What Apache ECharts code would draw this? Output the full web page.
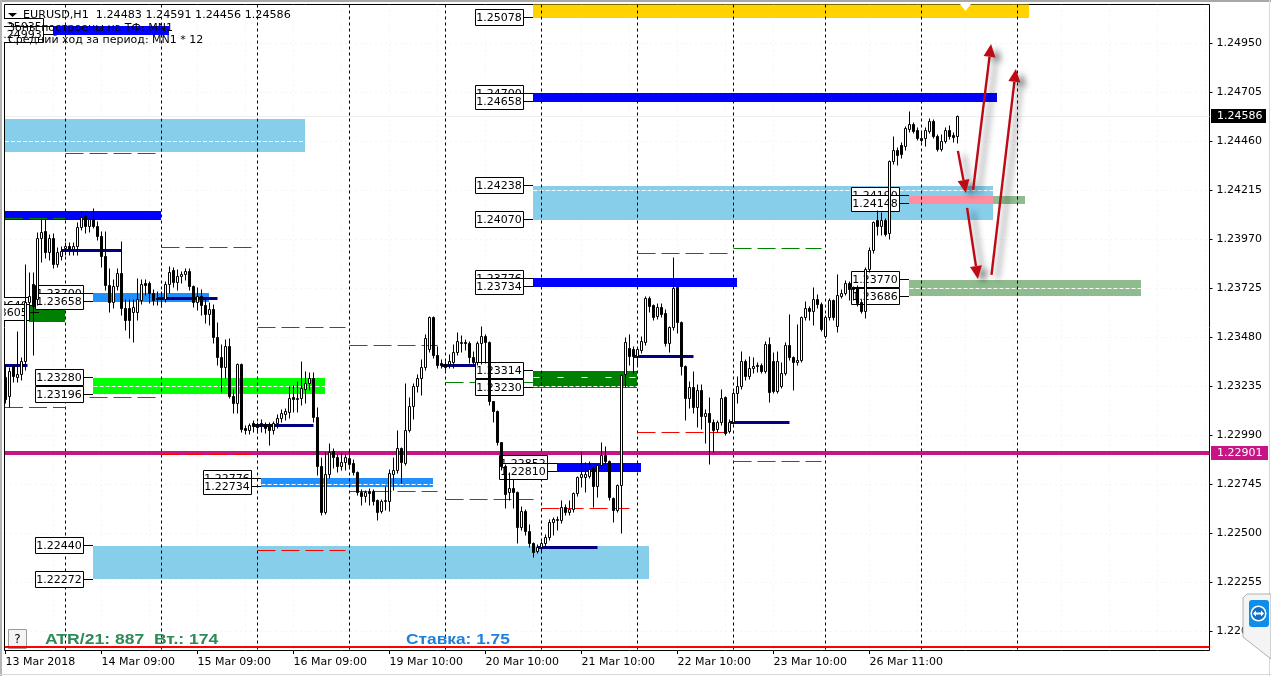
<!DOCTYPE html>
<html>
<head>
<meta charset="UTF-8" />
<title>EURUSD,H1</title>
<style>html,body{margin:0;padding:0;background:#fff}#A{width:1271px;height:676px}</style>
</head>
<body>
<div id="A"></div>
<script src="https://cdn.jsdelivr.net/npm/echarts@6/dist/echarts.min.js"></script>
<script>
// open, close, low, high of every H1 bar
var candles = [
[1.23278,1.23168,1.23153,1.23338],[1.23183,1.23308,1.23133,1.23328],[1.23333,1.23283,1.23258,1.23343],[1.23278,1.23293,1.23258,1.23508],
[1.23293,1.23358,1.23268,1.23378],[1.23358,1.23653,1.23318,1.23843],[1.23653,1.23683,1.23618,1.23803],[1.23743,1.23633,1.23393,1.23803],
[1.23668,1.23973,1.23643,1.24003],[1.23973,1.24003,1.23858,1.24068],[1.24008,1.23903,1.23878,1.24068],[1.23903,1.23973,1.23868,1.23993],
[1.23973,1.23843,1.23828,1.23998],[1.23843,1.23903,1.23833,1.23928],[1.23883,1.23908,1.23868,1.23933],[1.23923,1.23933,1.23893,1.23953],
[1.23933,1.23918,1.23893,1.23953],[1.23918,1.23933,1.23893,1.23953],[1.23933,1.24028,1.23893,1.24053],[1.24028,1.24078,1.24018,1.24108],
[1.24083,1.24033,1.24003,1.24093],[1.24033,1.24068,1.24008,1.24083],[1.24068,1.24033,1.24028,1.24123],[1.24033,1.23983,1.23968,1.24058],
[1.23983,1.23883,1.23833,1.24008],[1.23883,1.23738,1.23718,1.24008],[1.23738,1.23653,1.23608,1.23823],[1.23653,1.23733,1.23628,1.23768],
[1.23733,1.23798,1.23718,1.23823],[1.23798,1.23623,1.23593,1.23958],[1.23623,1.23563,1.23518,1.23668],[1.23623,1.23563,1.23478,1.23668],
[1.23603,1.23628,1.23458,1.23668],[1.23603,1.23668,1.23568,1.23773],[1.23663,1.23743,1.23648,1.23768],[1.23748,1.23738,1.23693,1.23768],
[1.23748,1.23698,1.23653,1.23758],[1.23698,1.23663,1.23643,1.23718],[1.23673,1.23668,1.23643,1.23708],[1.23673,1.23668,1.23633,1.23708],
[1.23668,1.23743,1.23658,1.23758],[1.23743,1.23803,1.23703,1.23833],[1.23813,1.23753,1.23733,1.23828],[1.23753,1.23783,1.23718,1.23818],
[1.23783,1.23793,1.23753,1.23808],[1.23793,1.23808,1.23768,1.23823],[1.23808,1.23733,1.23718,1.23823],[1.23733,1.23653,1.23633,1.23738],
[1.23653,1.23683,1.23618,1.23728],[1.23683,1.23638,1.23593,1.23718],[1.23638,1.23593,1.23553,1.23668],[1.23593,1.23618,1.23543,1.23653],
[1.23618,1.23478,1.23453,1.23643],[1.23478,1.23378,1.23343,1.23553],[1.23378,1.23328,1.23208,1.23443],[1.23328,1.23433,1.23278,1.23468],
[1.23433,1.23183,1.23178,1.23473],[1.23183,1.23148,1.23103,1.23218],[1.23148,1.23343,1.23103,1.23348],[1.23343,1.23018,1.23008,1.23348],
[1.23023,1.23013,1.22998,1.23038],[1.23013,1.23038,1.22998,1.23048],[1.23048,1.23033,1.23008,1.23063],[1.23043,1.23028,1.23003,1.23053],
[1.23048,1.23038,1.23008,1.23068],[1.23043,1.23023,1.23003,1.23053],[1.23043,1.23013,1.22943,1.23053],[1.23013,1.23048,1.22998,1.23058],
[1.23048,1.23073,1.23028,1.23093],[1.23073,1.23098,1.23058,1.23118],[1.23093,1.23108,1.23068,1.23123],[1.23103,1.23173,1.23078,1.23233],
[1.23178,1.23168,1.23108,1.23238],[1.23168,1.23173,1.23108,1.23258],[1.23173,1.23223,1.23143,1.23358],[1.23218,1.23248,1.23153,1.23308],
[1.23248,1.23273,1.23218,1.23303],[1.23273,1.23078,1.23058,1.23303],[1.23078,1.22833,1.22793,1.23128],[1.22833,1.22603,1.22593,1.22878],
[1.22603,1.22793,1.22598,1.22903],[1.22793,1.22903,1.22778,1.22948],[1.22908,1.22878,1.22828,1.22923],[1.22878,1.22833,1.22808,1.22893],
[1.22833,1.22853,1.22818,1.22898],[1.22853,1.22878,1.22818,1.22893],[1.22873,1.22843,1.22828,1.22918],[1.22848,1.22803,1.22793,1.22868],
[1.22803,1.22703,1.22693,1.22808],[1.22703,1.22683,1.22643,1.22718],[1.22683,1.22703,1.22658,1.22713],[1.22708,1.22698,1.22643,1.22723],
[1.22708,1.22658,1.22643,1.22718],[1.22663,1.22603,1.22568,1.22668],[1.22608,1.22658,1.22603,1.22668],[1.22658,1.22663,1.22618,1.22733],
[1.22658,1.22798,1.22613,1.22818],[1.22793,1.22813,1.22718,1.22878],[1.22813,1.22923,1.22803,1.23013],[1.22923,1.22853,1.22753,1.22928],
[1.22848,1.23013,1.22843,1.23248],[1.23013,1.23133,1.23008,1.23178],[1.23133,1.23233,1.23073,1.23248],[1.23233,1.23273,1.23208,1.23293],
[1.23273,1.23328,1.23193,1.23368],[1.23328,1.23473,1.23318,1.23493],[1.23418,1.23578,1.23408,1.23583],[1.23578,1.23388,1.23378,1.23583],
[1.23388,1.23338,1.23328,1.23433],[1.23348,1.23338,1.23328,1.23368],[1.23343,1.23328,1.23318,1.23358],[1.23343,1.23358,1.23328,1.23393],
[1.23353,1.23403,1.23328,1.23443],[1.23403,1.23458,1.23393,1.23503],[1.23448,1.23453,1.23408,1.23488],[1.23453,1.23448,1.23418,1.23468],
[1.23448,1.23378,1.23353,1.23458],[1.23378,1.23353,1.23343,1.23408],[1.23353,1.23448,1.23343,1.23458],[1.23448,1.23483,1.23348,1.23533],
[1.23483,1.23453,1.23353,1.23493],[1.23453,1.23158,1.23143,1.23458],[1.23158,1.23108,1.23058,1.23158],[1.23108,1.22953,1.22943,1.23113],
[1.22953,1.22833,1.22818,1.22953],[1.22833,1.22693,1.22628,1.22843],[1.22703,1.22723,1.22668,1.22803],[1.22723,1.22703,1.22628,1.22768],
[1.22703,1.22528,1.22453,1.22708],[1.22528,1.22608,1.22518,1.22633],[1.22608,1.22508,1.22493,1.22618],[1.22508,1.22448,1.22433,1.22543],
[1.22448,1.22403,1.22383,1.22453],[1.22408,1.22428,1.22403,1.22443],[1.22428,1.22448,1.22413,1.22458],[1.22448,1.22478,1.22428,1.22493],
[1.22478,1.22553,1.22468,1.22568],[1.22553,1.22568,1.22493,1.22578],[1.22563,1.22568,1.22518,1.22583],[1.22563,1.22628,1.22553,1.22663],
[1.22628,1.22603,1.22593,1.22643],[1.22603,1.22618,1.22593,1.22663],[1.22618,1.22698,1.22608,1.22703],[1.22698,1.22778,1.22688,1.22783],
[1.22778,1.22793,1.22733,1.22903],[1.22778,1.22793,1.22708,1.22853],[1.22783,1.22818,1.22778,1.22858],[1.22823,1.22733,1.22633,1.22833],
[1.22733,1.22838,1.22683,1.22848],[1.22838,1.22888,1.22828,1.22953],[1.22888,1.22858,1.22848,1.22933],[1.22858,1.22678,1.22668,1.22863],
[1.22673,1.22613,1.22558,1.22678],[1.22613,1.22738,1.22608,1.22743],[1.22738,1.23288,1.22503,1.23293],[1.23293,1.23453,1.23233,1.23478],
[1.23423,1.23383,1.23343,1.23493],[1.23418,1.23383,1.23303,1.23433],[1.23383,1.23418,1.23343,1.23428],[1.23413,1.23458,1.23403,1.23483],
[1.23453,1.23673,1.23443,1.23683],[1.23673,1.23633,1.23608,1.23683],[1.23638,1.23578,1.23568,1.23643],[1.23583,1.23628,1.23573,1.23648],
[1.23628,1.23593,1.23583,1.23648],[1.23598,1.23448,1.23438,1.23618],[1.23448,1.23528,1.23408,1.23533],[1.23528,1.23723,1.23518,1.23878],
[1.23728,1.23553,1.23503,1.23733],[1.23553,1.23333,1.23293,1.23558],[1.23333,1.23173,1.23068,1.23338],[1.23173,1.23228,1.23128,1.23258],
[1.23228,1.23128,1.23103,1.23308],[1.23128,1.23213,1.23033,1.23243],[1.23213,1.23083,1.23023,1.23243],[1.23083,1.23098,1.22953,1.23118],
[1.23098,1.23053,1.22848,1.23178],[1.23053,1.23013,1.22908,1.23068],[1.23018,1.23053,1.23008,1.23063],[1.23053,1.23173,1.23043,1.23218],
[1.23178,1.22998,1.22993,1.23183],[1.23008,1.23053,1.23003,1.23068],[1.23053,1.23198,1.23048,1.23208],[1.23198,1.23233,1.23153,1.23283],
[1.23233,1.23358,1.23223,1.23408],[1.23358,1.23283,1.23268,1.23368],[1.23283,1.23323,1.23273,1.23383],[1.23323,1.23333,1.23303,1.23378],
[1.23338,1.23333,1.23308,1.23353],[1.23338,1.23308,1.23303,1.23348],[1.23308,1.23443,1.23303,1.23458],[1.23443,1.23203,1.23158,1.23478],
[1.23358,1.23208,1.23203,1.23403],[1.23208,1.23358,1.23203,1.23408],[1.23233,1.23298,1.23228,1.23353],[1.23298,1.23438,1.23293,1.23453],
[1.23438,1.23378,1.23368,1.23593],[1.23378,1.23353,1.23218,1.23383],[1.23353,1.23363,1.23343,1.23543],[1.23363,1.23578,1.23358,1.23583],
[1.23578,1.23623,1.23568,1.23658],[1.23623,1.23608,1.23568,1.23633],[1.23608,1.23668,1.23543,1.23728],[1.23668,1.23643,1.23628,1.23693],
[1.23643,1.23518,1.23513,1.23653],[1.23483,1.23578,1.23478,1.23588],[1.23578,1.23663,1.23568,1.23673],[1.23663,1.23578,1.23568,1.23668],
[1.23533,1.23688,1.23508,1.23793],[1.23683,1.23698,1.23678,1.23718],[1.23698,1.23748,1.23693,1.23763],[1.23748,1.23718,1.23668,1.23758],
[1.23723,1.23718,1.23668,1.23733],[1.23728,1.23648,1.23638,1.23738],[1.23653,1.23608,1.23603,1.23668],[1.23608,1.23818,1.23578,1.23828],
[1.23818,1.23913,1.23808,1.23928],[1.23913,1.24053,1.23903,1.24058],[1.24063,1.24033,1.23993,1.24113],[1.24033,1.24063,1.23993,1.24103],
[1.24063,1.23993,1.23988,1.24073],[1.23998,1.24358,1.23973,1.24363],[1.24358,1.24413,1.24348,1.24483],[1.24413,1.24388,1.24343,1.24428],
[1.24438,1.24393,1.24378,1.24453],[1.24433,1.24523,1.24418,1.24533],[1.24518,1.24543,1.24508,1.24608],[1.24543,1.24508,1.24503,1.24553],
[1.24513,1.24473,1.24468,1.24528],[1.24473,1.24463,1.24458,1.24508],[1.24473,1.24513,1.24438,1.24528],[1.24508,1.24558,1.24503,1.24573],
[1.24558,1.24483,1.24478,1.24568],[1.24483,1.24418,1.24413,1.24493],[1.24418,1.24458,1.24413,1.24493],[1.24458,1.24513,1.24453,1.24528],
[1.24513,1.24483,1.24473,1.24538],[1.24488,1.24478,1.24458,1.24503],[1.24483,1.24586,1.24456,1.24591]
];

var priceTicks = [1.2495, 1.24705, 1.2446, 1.24215, 1.2397, 1.23725, 1.2348, 1.23235, 1.2299, 1.22745, 1.225, 1.22255, 1.2201];
var timeTicks = [0, 24, 48, 72, 96, 120, 144, 168, 192, 216];
var timeLabels = ['13 Mar 2018', '14 Mar 09:00', '15 Mar 09:00', '16 Mar 09:00', '19 Mar 10:00', '20 Mar 10:00', '21 Mar 10:00', '22 Mar 10:00', '23 Mar 10:00', '26 Mar 11:00'];
var daySeparators = [15, 39, 63, 86, 110, 134, 158, 182, 205, 229, 253];

// zones: first bar, last bar, top price, bottom price
var skyZones = [[-0.25, 75, 1.24573, 1.24408], [132, 247, 1.24238, 1.2407], [22, 161, 1.2244, 1.22272]];
var blueZones = [[132, 248, 1.247, 1.24658], [132, 183, 1.23776, 1.23734], [138, 159, 1.22852, 1.2281], [-0.25, 39, 1.24113, 1.24068], [12, 41, 1.25035, 1.24993]];
var dodgerZones = [[64, 107, 1.22776, 1.22734], [22, 51, 1.237, 1.23658]];
var limeZones = [[22, 80, 1.2328, 1.23196]];
var darkGreenZones = [[132, 158, 1.23314, 1.2323], [6, 15, 1.2364, 1.2356]];
var seaGreenZones = [[226, 284, 1.2377, 1.23686], [226, 255, 1.2419, 1.24148]];
var pinkZones = [[226, 247, 1.2419, 1.24148]];
var goldZones = [[132, 256, 1.2515, 1.25078]];

// white dashes where the price grid runs across a zone: first bar, last bar, price
var zoneGridLines = [[-0.25, 75, 1.2446], [132, 247, 1.24215], [22, 80, 1.23235], [64, 107, 1.22745], [226, 284, 1.23725], [132, 158, 1.23235]];
var zoneSparseLines = [[132, 158, 1.23278]];
var greenLevels = [[15, 39, 1.24401], [-0.25, 15, 1.24073], [39, 63, 1.23931], [63, 85, 1.23531], [86, 108, 1.23441], [110, 132, 1.23256], [158, 182, 1.23901], [182, 204, 1.23926]];
var redLevels = [[-0.25, 15, 1.23131], [21, 38, 1.23181], [39, 63, 1.22893], [63, 85, 1.22416], [86, 108, 1.22711], [110, 132, 1.22671], [134, 156, 1.22626], [158, 182, 1.23006], [182, 204, 1.22861]];
var navyLevels = [[-0.25, 5.5, 1.23338], [14, 29, 1.23913], [38, 53, 1.23673], [62, 77, 1.23038], [109, 124, 1.23338], [133, 148, 1.22428], [157, 172, 1.23383], [181, 196, 1.23053]];

// price boxes: bar the box points to, price
var priceBoxes = [[132, 1.25078], [132, 1.247], [132, 1.24658], [132, 1.24238], [132, 1.2407], [226, 1.2419], [226, 1.24148],
    [132, 1.23776], [132, 1.23734], [226, 1.2377], [226, 1.23686], [8.5, 1.2364], [8.5, 1.23605], [22, 1.237], [22, 1.23658],
    [22, 1.2328], [22, 1.23196], [132, 1.23314], [132, 1.2323], [138, 1.22852], [138, 1.2281], [64, 1.22776], [64, 1.22734],
    [22, 1.2244], [22, 1.22272], [12, 1.25035], [12, 1.24993]];

// forecast arrows: from bar, from price, to bar, to price
var arrows = [[238.1, 1.24413, 240.1, 1.24203], [240.4, 1.24128, 243.1, 1.23773], [241.9, 1.24218, 246.4, 1.24948], [246.5, 1.23793, 252.6, 1.24823]];
var lastPrice = 1.24586;
var pivotPrice = 1.22901;
var floorPrice = 1.21935;
var alertMark = [[240, 1.2513]];

var FONT = '11px "DejaVu Sans"';
var LAST_BAR = 301;
var TOP_PRICE = 1.25145, BOTTOM_PRICE = 1.21915;

function snap(v) { return Math.round(v - 0.5) + 0.5; }

function zoneSeries(rows, color, z) {
    return {
        type: 'custom', z: z, clip: true, data: rows, silent: true,
        renderItem: function (params, api) {
            var a = api.coord([api.value(0), api.value(2)]);
            var b = api.coord([api.value(1), api.value(3)]);
            var top = Math.round(a[1]), bottom = Math.round(b[1]);
            var left = Math.max(Math.floor(a[0]), 5);
            return { type: 'rect', shape: { x: left, y: top, width: Math.floor(b[0]) - left, height: bottom - top }, style: { fill: color } };
        }
    };
}

function levelSeries(rows, color, width, dash, z) {
    return {
        type: 'custom', z: z, clip: true, data: rows, silent: true,
        renderItem: function (params, api) {
            var a = api.coord([api.value(0), api.value(2)]);
            var b = api.coord([api.value(1), api.value(2)]);
            var y = width % 2 ? snap(a[1]) : Math.round(a[1]);
            return { type: 'line', shape: { x1: Math.max(a[0], 5), y1: y, x2: b[0], y2: y }, style: { stroke: color, lineWidth: width, lineDash: dash || null } };
        }
    };
}

function verticalSeries(rows, color, dash, z) {
    return {
        type: 'custom', z: z, clip: true, data: rows.map(function (b) { return [b]; }), silent: true,
        renderItem: function (params, api) {
            var x = snap(api.coord([api.value(0), lastPrice])[0]);
            return { type: 'line', shape: { x1: x, y1: api.coord([0, TOP_PRICE])[1], x2: x, y2: api.coord([0, BOTTOM_PRICE])[1] }, style: { stroke: color, lineWidth: 1, lineDash: dash } };
        }
    };
}

// tick marks outside the frame, on the price scale and on the time scale
function priceTickSeries() {
    return {
        type: 'custom', z: 9, silent: true, data: priceTicks.map(function (p) { return [p]; }),
        renderItem: function (params, api) {
            var c = api.coord([LAST_BAR, api.value(0)]);
            var y = snap(c[1]);
            return { type: 'line', shape: { x1: c[0], y1: y, x2: c[0] + 3, y2: y }, style: { stroke: '#000', lineWidth: 1 } };
        }
    };
}

function timeTickSeries() {
    return {
        type: 'custom', z: 9, silent: true, data: timeTicks.map(function (b) { return [b]; }),
        renderItem: function (params, api) {
            var c = api.coord([api.value(0), BOTTOM_PRICE]);
            var x = snap(c[0]);
            return { type: 'line', shape: { x1: x, y1: c[1], x2: x, y2: c[1] + 3.5 }, style: { stroke: '#000', lineWidth: 1 } };
        }
    };
}

function renderBox(params, api) {
    var c = api.coord([api.value(0), api.value(1)]);
    var right = Math.floor(c[0]) - 10, y = snap(c[1]);
    return {
        type: 'group', children: [
            { type: 'line', shape: { x1: right, y1: y, x2: right + 10, y2: y }, style: { stroke: '#000', lineWidth: 1 } },
            { type: 'rect', shape: { x: right - 48 + 0.5, y: y - 8, width: 48, height: 16 }, style: { fill: '#fff', stroke: '#000', lineWidth: 1 } },
            { type: 'text', style: { x: right - 24, y: y + 0.5, text: api.value(1).toFixed(5), fill: '#000', font: FONT, align: 'center', verticalAlign: 'middle' } }
        ]
    };
}

function renderCandle(params, api) {
    var o = api.value(1), cl = api.value(2);
    var x = snap(api.coord([api.value(0), o])[0]);
    var yo = api.coord([0, o])[1], yc = api.coord([0, cl])[1];
    var yl = snap(api.coord([0, api.value(3)])[1]), yh = snap(api.coord([0, api.value(4)])[1]);
    var top = snap(Math.min(yo, yc)), bottom = snap(Math.max(yo, yc));
    return {
        type: 'group', children: [
            { type: 'line', shape: { x1: x, y1: yh, x2: x, y2: yl + 1 }, style: { stroke: '#000', lineWidth: 1 } },
            { type: 'rect', shape: { x: x - 1, y: top, width: 2, height: bottom - top }, style: { fill: cl >= o ? '#fff' : '#000', stroke: '#000', lineWidth: 1 } }
        ]
    };
}

function renderArrow(params, api) {
    var a = api.coord([api.value(0), api.value(1)]);
    var b = api.coord([api.value(2), api.value(3)]);
    var len = Math.sqrt((b[0] - a[0]) * (b[0] - a[0]) + (b[1] - a[1]) * (b[1] - a[1]));
    var ux = (b[0] - a[0]) / len, uy = (b[1] - a[1]) / len;
    var bx = b[0] - ux * 13, by = b[1] - uy * 13;
    var shadow = { shadowColor: 'rgba(0,0,0,0.5)', shadowBlur: 6, shadowOffsetX: 6, shadowOffsetY: 4 };
    return {
        type: 'group', children: [
            { type: 'line', shape: { x1: a[0], y1: a[1], x2: bx, y2: by }, style: Object.assign({ stroke: '#BE0A14', lineWidth: 2.4 }, shadow) },
            { type: 'polygon', shape: { points: [[b[0], b[1]], [bx - uy * 6, by + ux * 6], [bx + uy * 6, by - ux * 6]] }, style: Object.assign({ fill: '#BE0A14' }, shadow) }
        ]
    };
}

function renderTag(params, api) {
    var y = Math.round(api.coord([LAST_BAR, api.value(0)])[1]);
    var x = api.coord([LAST_BAR, api.value(0)])[0];
    return {
        type: 'group', children: [
            { type: 'rect', shape: { x: x + 1.5, y: y - 7, width: params.dataIndex ? 57 : 55, height: 14 }, style: { fill: params.dataIndex ? '#C71585' : '#000' } },
            { type: 'text', style: { x: x + 7.5, y: y + 0.5, text: api.value(0).toFixed(5), fill: '#fff', font: FONT, align: 'left', verticalAlign: 'middle' } }
        ]
    };
}

var faintBars = [];
for (var k = 12; k <= 300; k += 12) { faintBars.push(k); }

var series = [
    verticalSeries(faintBars, '#f5f5f5', [2, 3], 1),
    levelSeries(priceTicks.map(function (p) { return [-0.25, LAST_BAR, p]; }), '#f5f5f5', 1, [2, 3], 1),
    zoneSeries(skyZones, '#87CEEB', 2),
    zoneSeries(blueZones, '#0000FF', 2),
    zoneSeries(dodgerZones, '#1E90FF', 2),
    zoneSeries(limeZones, '#00FF00', 2),
    zoneSeries(darkGreenZones, '#008000', 2),
    zoneSeries(seaGreenZones, '#8FBC8F', 2),
    zoneSeries(pinkZones, '#FF8FA0', 2),
    zoneSeries(goldZones, '#FFD200', 2),
    levelSeries(zoneGridLines, '#fff', 1, [4, 2], 3),
    levelSeries(zoneSparseLines, '#fff', 1, [6, 18], 3),
    levelSeries([[-0.25, LAST_BAR, lastPrice]], '#eeeeee', 1, null, 1),
    verticalSeries(daySeparators, '#000', [3, 3], 3),
    levelSeries([[-0.25, LAST_BAR, pivotPrice]], '#C71585', 4, null, 3),
    levelSeries(greenLevels, '#008000', 1, [18, 6], 3),
    levelSeries(redLevels, '#FF0000', 1, [18, 6], 3),
    levelSeries(navyLevels, '#000080', 3, null, 4),
    { type: 'custom', z: 5, clip: true, silent: true, data: priceBoxes, renderItem: renderBox },
    { type: 'custom', z: 6, clip: true, silent: true, data: candles.map(function (c, i) { return [i, c[0], c[1], c[2], c[3]]; }), renderItem: renderCandle },
    { type: 'scatter', z: 6, silent: true, symbol: 'triangle', symbolRotate: 180, symbolSize: [11, 7], itemStyle: { color: '#fff', opacity: 1 }, data: alertMark },
    { type: 'custom', z: 8, silent: true, data: arrows, renderItem: renderArrow },
    levelSeries([[-0.25, LAST_BAR, floorPrice]], '#FF0000', 2, null, 9),
    priceTickSeries(),
    timeTickSeries(),
    { type: 'custom', z: 9, silent: true, data: [[lastPrice], [pivotPrice]], renderItem: renderTag }
];

var graphics = [
    // window edges
    { type: 'rect', z: 1, shape: { x: 0, y: 0, width: 1271, height: 2 }, style: { fill: '#a8a8a8' } },
    { type: 'rect', z: 1, shape: { x: 0, y: 0, width: 2, height: 676 }, style: { fill: '#b4b4b4' } },
    { type: 'rect', z: 1, shape: { x: 1269, y: 0, width: 1, height: 676 }, style: { fill: '#d8d8d8' } },
    { type: 'rect', z: 1, shape: { x: 0, y: 674, width: 1271, height: 1 }, style: { fill: '#d8d8d8' } },
    // header
    { type: 'polygon', z: 20, shape: { points: [[8, 13], [17, 13], [12.5, 17]] }, style: { fill: '#000' } },
    { type: 'text', z: 20, style: { x: 23, y: 15, text: 'EURUSD,H1  1.24483 1.24591 1.24456 1.24586', fill: '#000', font: '11.15px "DejaVu Sans"', verticalAlign: 'middle' } },
    { type: 'text', z: 20, style: { x: 8, y: 28, text: 'Зоны построены на ТФ: MN1', fill: '#000', font: FONT, verticalAlign: 'middle' } },
    { type: 'text', z: 20, style: { x: 8, y: 40, text: 'Средний ход за период: MN1 * 12', fill: '#000', font: FONT, verticalAlign: 'middle' } },
    // bottom panel
    { type: 'rect', z: 4, shape: { x: 8.5, y: 629.5, width: 18, height: 19 }, style: { fill: '#f4f4f4', stroke: '#9a9a9a', lineWidth: 1 } },
    { type: 'text', z: 4, style: { x: 17.5, y: 640, text: '?', fill: '#000', font: '12px "DejaVu Sans"', align: 'center', verticalAlign: 'middle' } },
    { type: 'text', z: 4, x: 45, y: 640, scaleX: 1.17, style: { x: 0, y: 0, text: 'ATR/21: 887  Вт.: 174', fill: '#2E8B57', font: 'bold 15px "Liberation Sans"', verticalAlign: 'middle' } },
    { type: 'text', z: 4, x: 406, y: 640, scaleX: 1.155, style: { x: 0, y: 0, text: 'Ставка: 1.75', fill: '#1E80DC', font: 'bold 15px "Liberation Sans"', verticalAlign: 'middle' } },
    // remote desktop tab on top of the scale
    { type: 'polygon', z: 30, shape: { points: [[1271, 594], [1247, 594], [1243, 598], [1243, 637], [1271, 659]] }, style: { fill: '#f4f4f4', stroke: '#b0b0b0', lineWidth: 1 } },
    { type: 'rect', z: 31, shape: { x: 1249, y: 600, width: 20, height: 27, r: 3 }, style: { fill: '#0E8EE9' } },
    { type: 'circle', z: 32, shape: { cx: 1258.5, cy: 613.5, r: 8 }, style: { fill: '#fff' } },
    { type: 'circle', z: 33, shape: { cx: 1258.5, cy: 613.5, r: 6.5 }, style: { fill: '#0E6FC4' } },
    { type: 'polygon', z: 34, shape: { points: [[1253, 613.5], [1256, 610.5], [1256, 612.5], [1261, 612.5], [1261, 610.5], [1264, 613.5], [1261, 616.5], [1261, 614.5], [1256, 614.5], [1256, 616.5]] }, style: { fill: '#fff' } }
];

var myChart = echarts.init(document.getElementById('A'), null, { renderer: 'canvas' });
var option = {
    animation: false,
    backgroundColor: '#fff',
    textStyle: { fontFamily: 'DejaVu Sans' },
    grid: { show: true, left: 4.5, top: 4.5, width: 1205, height: 646, borderColor: '#000', borderWidth: 1, backgroundColor: '#fff', containLabel: false },
    xAxis: {
        type: 'value', min: -0.25, max: LAST_BAR,
        axisLine: { show: false, onZero: false },
        splitLine: { show: false },
        axisTick: { show: false },
        axisLabel: {
            customValues: timeTicks, align: 'left', margin: 6, color: '#000', fontSize: 11, fontFamily: 'DejaVu Sans',
            formatter: function (v) { return timeLabels[timeTicks.indexOf(v)]; }
        }
    },
    yAxis: {
        type: 'value', position: 'right', min: BOTTOM_PRICE, max: TOP_PRICE, scale: true,
        axisLine: { show: false, onZero: false },
        splitLine: { show: false },
        axisTick: { show: false },
        axisLabel: {
            customValues: priceTicks, margin: 7, color: '#000', fontSize: 11, fontFamily: 'DejaVu Sans',
            formatter: function (v) { return v.toFixed(5); }
        }
    },
    graphic: { elements: graphics },
    series: series
};
myChart.setOption(option);
</script>
</body>
</html>
